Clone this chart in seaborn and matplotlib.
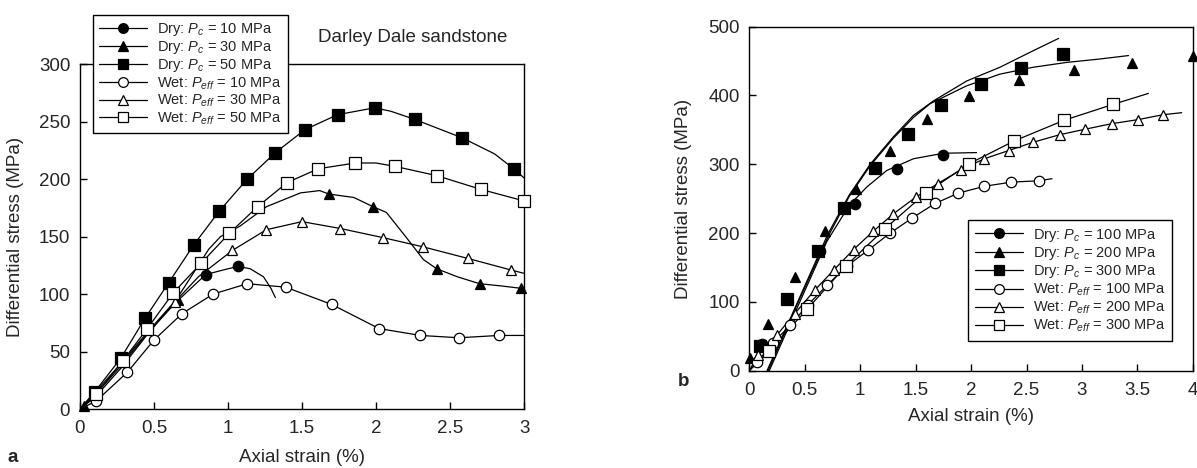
import matplotlib
matplotlib.use("Agg")
import matplotlib.pyplot as plt
from matplotlib.lines import Line2D
from matplotlib.ticker import MultipleLocator, FuncFormatter
import seaborn as sns

# ---------------- panel a : Darley Dale sandstone, low pressure ----------------
# curves (strain %, differential stress MPa)
a_dry10_x = [0, 0.10, 0.28, 0.45, 0.65, 0.85, 1.00, 1.07, 1.15, 1.24, 1.29, 1.32]
a_dry10_y = [0, 12, 38, 65, 93, 117, 122, 124, 122, 115, 105, 97]
a_dry30_x = [0, 0.28, 0.45, 0.65, 0.75, 0.87, 0.95, 1.08, 1.26, 1.49, 1.62, 1.68, 1.85, 1.98, 2.07,
             2.20, 2.32, 2.41, 2.55, 2.70, 2.85, 2.98, 3.0]
a_dry30_y = [0, 40, 66, 95, 115, 139, 150, 159, 176, 188, 190, 187, 184, 176, 171,
             150, 130, 122, 115, 109, 107, 105, 104]
a_dry50_x = [0, 0.10, 0.275, 0.44, 0.60, 0.77, 0.94, 1.13, 1.32, 1.52, 1.74, 1.99, 2.10, 2.26,
             2.40, 2.58, 2.80, 2.93, 3.0]
a_dry50_y = [0, 15, 44, 79, 110, 143, 172, 200, 223, 243, 256, 262, 259, 252,
             245, 236, 222, 209, 201]
a_wet10_x = [0, 0.11, 0.32, 0.50, 0.69, 0.90, 1.13, 1.39, 1.70, 2.02, 2.30, 2.56, 2.83, 3.0]
a_wet10_y = [0, 7, 32, 60, 83, 100, 109, 106, 91, 70, 64, 62, 64, 64]
a_wet30_x = [0, 0.10, 0.28, 0.45, 0.64, 0.80, 1.03, 1.26, 1.50, 1.76, 2.05, 2.32, 2.62, 2.91, 3.0]
a_wet30_y = [0, 10, 36, 64, 93, 115, 138, 156, 163, 157, 149, 141, 131, 121, 118]
a_wet50_x = [0, 0.11, 0.29, 0.455, 0.63, 0.82, 1.01, 1.20, 1.40, 1.61, 1.86, 2.00, 2.13, 2.41,
             2.71, 3.0]
a_wet50_y = [0, 13, 42, 70, 101, 127, 153, 176, 197, 209, 214, 214, 211, 203, 191, 181]

# marker positions
a_dry10_mx = [0.85, 1.07]
a_dry10_my = [117, 124]
a_dry30_mx = [0.03, 0.66, 1.68, 1.98, 2.41, 2.70, 2.98]
a_dry30_my = [3, 95, 187, 176, 122, 109, 105]
a_dry50_mx = [0.10, 0.275, 0.44, 0.60, 0.77, 0.94, 1.13, 1.32, 1.52, 1.74, 1.99, 2.26, 2.58, 2.93]
a_dry50_my = [15, 44, 79, 110, 143, 172, 200, 223, 243, 256, 262, 252, 236, 209]
a_wet10_mx = [0.11, 0.32, 0.50, 0.69, 0.90, 1.13, 1.39, 1.70, 2.02, 2.30, 2.56, 2.83]
a_wet10_my = [7, 32, 60, 83, 100, 109, 106, 91, 70, 64, 62, 64]
a_wet30_mx = [0.64, 1.03, 1.26, 1.50, 1.76, 2.05, 2.32, 2.62, 2.91]
a_wet30_my = [93, 138, 156, 163, 157, 149, 141, 131, 121]
a_wet50_mx = [0.11, 0.29, 0.455, 0.63, 0.82, 1.01, 1.20, 1.40, 1.61, 1.86, 2.13, 2.41, 2.71, 3.0]
a_wet50_my = [13, 42, 70, 101, 127, 153, 176, 197, 209, 214, 211, 203, 191, 181]

# ---------------- panel b : high pressure ----------------
b_dryA_x = [0.16, 0.45, 0.71, 0.90, 1.09, 1.30, 1.48, 1.66, 1.96, 2.26, 2.56, 2.79]
b_dryA_y = [0, 105, 199, 255, 300, 340, 371, 392, 421, 441, 465, 483]
b_dryB_x = [0.17, 0.45, 0.72, 0.90, 1.09, 1.30, 1.48, 1.63, 1.96, 2.26, 2.56, 2.86, 3.16, 3.42]
b_dryB_y = [0, 103, 198, 253, 298, 338, 368, 388, 414, 431, 441, 448, 453, 458]
b_dry100_x = [0.18, 0.45, 0.70, 0.90, 1.06, 1.24, 1.48, 1.75, 2.05]
b_dry100_y = [0, 98, 188, 240, 267, 291, 308, 316, 317]
b_wet100_x = [0, 0.07, 0.21, 0.37, 0.53, 0.70, 0.88, 1.07, 1.27, 1.47, 1.675, 1.885, 2.12, 2.36,
              2.61, 2.73]
b_wet100_y = [0, 12, 40, 66, 96, 124, 152, 175, 200, 222, 243, 258, 268, 274, 276, 279]
b_wet200_x = [0, 0.08, 0.25, 0.41, 0.59, 0.76, 0.94, 1.12, 1.30, 1.50, 1.70, 1.91, 2.12, 2.34,
              2.56, 2.80, 3.03, 3.27, 3.51, 3.73, 3.90]
b_wet200_y = [0, 23, 52, 83, 117, 146, 176, 203, 228, 252, 272, 292, 308, 320,
              332, 343, 351, 359, 365, 372, 375]
b_wet300_x = [0, 0.18, 0.52, 0.87, 1.22, 1.59, 1.985, 2.39, 2.84, 3.28, 3.60]
b_wet300_y = [0, 29, 89, 152, 206, 258, 301, 334, 364, 387, 403]

b_dry100_mx = [0.11, 0.64, 0.95, 1.335, 1.75]
b_dry100_my = [39, 174, 242, 293, 314]
b_dry200_mx = [0.01, 0.17, 0.41, 0.68, 0.96, 1.27, 1.60, 1.98, 2.43, 2.93, 3.45, 4.0]
b_dry200_my = [18, 68, 136, 203, 264, 319, 366, 399, 422, 437, 447, 458]
b_dry300_mx = [0.10, 0.34, 0.62, 0.85, 1.13, 1.43, 1.73, 2.09, 2.45, 2.83]
b_dry300_my = [36, 104, 174, 237, 295, 344, 386, 417, 440, 460]
b_wet100_mx = b_wet100_x[1:-1]
b_wet100_my = b_wet100_y[1:-1]
b_wet200_mx = b_wet200_x[1:-1]
b_wet200_my = b_wet200_y[1:-1]
b_wet300_mx = b_wet300_x[1:-1]
b_wet300_my = b_wet300_y[1:-1]

a_labels = ["Dry: $P_c$ = 10 MPa", "Dry: $P_c$ = 30 MPa", "Dry: $P_c$ = 50 MPa",
            "Wet: $P_{eff}$ = 10 MPa", "Wet: $P_{eff}$ = 30 MPa", "Wet: $P_{eff}$ = 50 MPa"]
b_labels = ["Dry: $P_c$ = 100 MPa", "Dry: $P_c$ = 200 MPa", "Dry: $P_c$ = 300 MPa",
            "Wet: $P_{eff}$ = 100 MPa", "Wet: $P_{eff}$ = 200 MPa", "Wet: $P_{eff}$ = 300 MPa"]
styles = [("o", "black"), ("^", "black"), ("s", "black"),
          ("o", "white"), ("^", "white"), ("s", "white")]
msizes = {"o": 7.5, "^": 7.5, "s": 8}

sns.set_theme(style="ticks")
plt.rcParams["font.family"] = ["Liberation Sans", "DejaVu Sans"]
plt.rcParams["mathtext.fontset"] = "custom"
plt.rcParams["mathtext.rm"] = "Liberation Sans"
plt.rcParams["mathtext.it"] = "Liberation Sans:italic"
plt.rcParams["axes.edgecolor"] = "black"
plt.rcParams["axes.linewidth"] = 1.0

fig = plt.figure(figsize=(11.97, 4.68), dpi=100)
ax_a = fig.add_axes([0.0668, 0.126, 0.371, 0.737])
ax_b = fig.add_axes([0.626, 0.208, 0.3705, 0.735])


def curve(ax, x, y):
    sns.lineplot(x=x, y=y, ax=ax, color="black", lw=0.9, sort=False, estimator=None, zorder=2)


def marks(ax, x, y, style):
    m, fc = style
    ax.plot(x, y, linestyle="none", marker=m, ms=msizes[m], mfc=fc, mec="black",
            mew=0.9, zorder=3, clip_on=False)


# panel a
for cx, cy in [(a_dry10_x, a_dry10_y), (a_dry30_x, a_dry30_y), (a_dry50_x, a_dry50_y),
               (a_wet10_x, a_wet10_y), (a_wet30_x, a_wet30_y), (a_wet50_x, a_wet50_y)]:
    curve(ax_a, cx, cy)
for (mx, my), st in zip([(a_dry10_mx, a_dry10_my), (a_dry30_mx, a_dry30_my), (a_dry50_mx, a_dry50_my),
                         (a_wet10_mx, a_wet10_my), (a_wet30_mx, a_wet30_my), (a_wet50_mx, a_wet50_my)],
                        styles):
    marks(ax_a, mx, my, st)

# panel b
for cx, cy in [(b_dryA_x, b_dryA_y), (b_dryB_x, b_dryB_y), (b_dry100_x, b_dry100_y),
               (b_wet100_x, b_wet100_y), (b_wet200_x, b_wet200_y), (b_wet300_x, b_wet300_y)]:
    curve(ax_b, cx, cy)
for (mx, my), st in zip([(b_dry100_mx, b_dry100_my), (b_dry200_mx, b_dry200_my), (b_dry300_mx, b_dry300_my),
                         (b_wet100_mx, b_wet100_my), (b_wet200_mx, b_wet200_my), (b_wet300_mx, b_wet300_my)],
                        styles):
    marks(ax_b, mx, my, st)

fmt = FuncFormatter(lambda v, p: "%g" % v)
for ax, xmax, ymax, ystep in [(ax_a, 3, 300, 50), (ax_b, 4, 500, 100)]:
    ax.set_xlim(0, xmax)
    ax.set_ylim(0, ymax)
    ax.xaxis.set_major_locator(MultipleLocator(0.5))
    ax.yaxis.set_major_locator(MultipleLocator(ystep))
    ax.xaxis.set_major_formatter(fmt)
    ax.tick_params(axis="both", direction="in", length=5, width=1, labelsize=13.5, color="black")
    ax.tick_params(axis="x", pad=8)
    ax.tick_params(axis="y", pad=7)
    for s in ax.spines.values():
        s.set_visible(True)
        s.set_color("black")
    ax.set_xlabel("Axial strain (%)", fontsize=13.5)
    ax.set_ylabel("Differential stress (MPa)", fontsize=13.5)

ax_a.xaxis.set_label_coords(0.5, -0.115)
ax_a.yaxis.set_label_coords(-0.125, 0.5)
ax_b.xaxis.set_label_coords(0.5, -0.11)
ax_b.yaxis.set_label_coords(-0.13, 0.5)


def handles():
    return [Line2D([0], [0], color="black", lw=0.9, marker=m, ms=msizes[m] - 0.5, mfc=fc,
                   mec="black", mew=0.9) for m, fc in styles]


leg_a = ax_a.legend(handles(), a_labels, loc="upper left", bbox_to_anchor=(0.0777, 0.968),
                    bbox_transform=fig.transFigure, fontsize=10.5, frameon=True, fancybox=False,
                    edgecolor="black", framealpha=1, handlelength=3.3, handletextpad=0.7,
                    labelspacing=0.08, borderpad=0.4, borderaxespad=0)
leg_a.get_frame().set_linewidth(1.0)
leg_a.set_zorder(5)

leg_b = ax_b.legend(handles(), b_labels, loc="upper left", bbox_to_anchor=(0.8087, 0.53),
                    bbox_transform=fig.transFigure, fontsize=10.5, frameon=True, fancybox=False,
                    edgecolor="black", framealpha=1, handlelength=3.3, handletextpad=0.7,
                    labelspacing=0.1, borderpad=0.45, borderaxespad=0)
leg_b.get_frame().set_linewidth(1.0)

fig.text(318 / 1197, 1 - 38 / 468, "Darley Dale sandstone", fontsize=13.5, va="center", ha="left")
fig.text(8 / 1197, 1 - 458 / 468, "a", fontsize=13.5, fontweight="bold", va="center", ha="left")
fig.text(678 / 1197, 1 - 382 / 468, "b", fontsize=13.5, fontweight="bold", va="center", ha="left")

fig.savefig("out.png", dpi=100)
